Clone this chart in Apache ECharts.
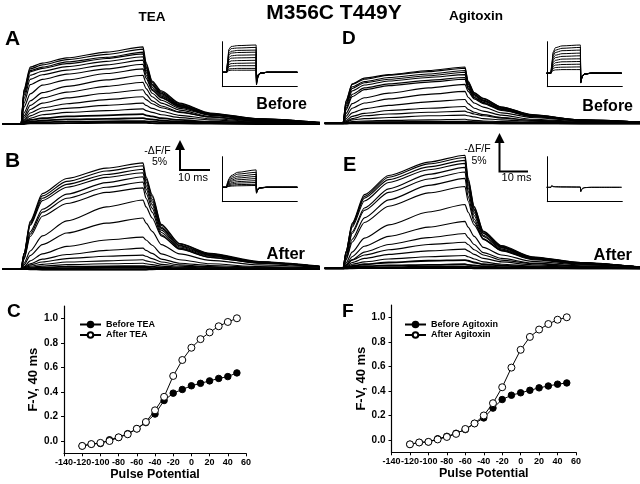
<!DOCTYPE html>
<html><head><meta charset="utf-8">
<script src="https://cdn.jsdelivr.net/npm/echarts@6.0.0/dist/echarts.min.js"></script>
<style>html,body{margin:0;padding:0;background:#fff}#c{width:640px;height:484px}</style>
</head><body><div id="c"></div>
<script>
// ---------------- DATA ----------------
// F-V (40 ms) panels C and F
const voltages = [-120,-110,-100,-90,-80,-70,-60,-50,-40,-30,-20,-10,0,10,20,30,40,50];
const fvBeforeTEA = [-0.04,-0.025,-0.02,0.01,0.03,0.06,0.10,0.15,0.22,0.33,0.39,0.42,0.45,0.47,0.49,0.51,0.525,0.555];
const fvAfterTEA = [-0.04,-0.025,-0.015,0.0,0.03,0.055,0.10,0.155,0.25,0.36,0.53,0.66,0.76,0.83,0.885,0.935,0.97,1.0];
const fvBeforeAgtx = [-0.035,-0.02,-0.015,0.01,0.03,0.055,0.085,0.135,0.18,0.26,0.33,0.365,0.385,0.405,0.425,0.44,0.455,0.465];
const fvAfterAgtx = [-0.035,-0.02,-0.015,0.005,0.025,0.05,0.09,0.135,0.2,0.3,0.43,0.59,0.735,0.84,0.9,0.945,0.98,1.0];
const fvTicksX = [-140,-120,-100,-80,-60,-40,-20,0,20,40,60];
const fvTicksY = [0,0.2,0.4,0.6,0.8,1.0];

// Fluorescence traces (-dF/F, %), sampled at these times (ms); one row per pulse, +50 mV first
const traceTimes = [-6,0,1,3,7,15,28,40,41,43,46,52,62,78,98];
const tracesA = [
[0,0,6.0,9.8,10.5,11.4,12.4,13.3,10.6,7.4,5.7,3.6,1.9,0.9,0.3],
[0,0,5.8,9.5,10.2,11.1,12.0,12.9,10.3,7.2,5.5,3.5,1.8,0.9,0.3],
[0,0,5.6,9.2,9.8,10.7,11.5,12.4,9.9,6.9,5.3,3.3,1.7,0.9,0.2],
[0,0,5.4,9.0,9.6,10.4,11.3,12.1,9.7,6.8,5.2,3.3,1.7,0.8,0.2],
[0,0,5.0,8.4,9.1,9.9,10.8,11.6,9.3,6.6,5.0,3.2,1.7,0.8,0.2],
[0,0,4.4,7.7,8.5,9.3,10.2,11.0,8.9,6.3,4.8,3.1,1.6,0.8,0.2],
[0,0,3.6,6.8,7.7,8.6,9.5,10.3,8.4,6.0,4.6,3.0,1.6,0.7,0.2],
[0,0,2.9,5.2,6.7,7.6,8.7,9.5,7.9,5.8,4.5,2.9,1.6,0.7,0.2],
[0,0,1.9,4.0,5.4,6.5,7.6,8.4,7.1,5.3,4.1,2.7,1.5,0.7,0.2],
[0,0,1.4,3.2,4.5,5.5,6.5,7.2,6.1,4.7,3.6,2.4,1.3,0.6,0.1],
[0,0,1.0,2.5,3.6,4.5,5.3,5.9,5.1,4.0,3.1,2.1,1.2,0.5,0.1],
[0,0,0.7,1.9,2.8,3.5,4.2,4.7,4.2,3.5,2.8,2.0,1.2,0.5,0.1],
[0,0,0.5,1.4,2.2,2.7,3.2,3.6,3.2,2.7,2.2,1.5,0.9,0.4,0.1],
[0,0,0.4,1.0,1.6,2.0,2.3,2.6,2.3,2.0,1.6,1.1,0.7,0.3,0.1],
[0,0,0.3,0.7,1.0,1.3,1.5,1.7,1.5,1.3,1.0,0.7,0.4,0.2,0],
[0,0,0.2,0.4,0.6,0.8,0.9,1.0,0.9,0.8,0.6,0.4,0.3,0.1,0],
[0,0,0.1,0.2,0.3,0.4,0.45,0.5,0.45,0.4,0.3,0.2,0.15,0.05,0],
[0,0,0,0.1,0.1,0.15,0.2,0.2,0.2,0.15,0.1,0.1,0.05,0,0]
];
const tracesB = [
[0,0,2.7,8.2,13.0,15.6,17.4,18.3,15.9,12.8,7.7,4.4,2.7,1.3,0.5],
[0,0,2.7,8.0,12.6,15.1,16.9,17.8,15.5,12.5,7.5,4.3,2.6,1.2,0.4],
[0,0,2.6,7.7,12.2,14.6,16.3,17.2,15.0,12.0,7.2,4.1,2.5,1.2,0.4],
[0,0,2.5,7.5,11.8,14.1,15.8,16.6,14.4,11.6,7.0,4.0,2.4,1.2,0.4],
[0,0,1.9,6.4,10.3,12.9,14.9,15.9,13.8,11.1,6.7,3.8,2.3,1.1,0.4],
[0,0,1.8,6.0,9.8,12.2,14.1,15.0,13.1,10.5,6.3,3.6,2.2,1.1,0.4],
[0,0,1.7,5.6,9.1,11.3,13.2,14.0,12.2,9.8,5.9,3.4,2.0,1.0,0.4],
[0,0,1.0,3.1,5.7,8.3,10.7,11.9,10.7,8.8,5.7,3.5,2.0,1.0,0.4],
[0,0,0.7,2.3,4.2,6.2,7.9,8.8,7.9,6.5,4.2,2.6,1.5,0.7,0.3],
[0,0,0.4,1.4,2.6,3.9,5.0,5.5,5.0,4.1,2.6,1.6,0.9,0.4,0.2],
[0,0,0.3,0.9,1.7,2.5,3.2,3.6,3.2,2.7,1.7,1.0,0.6,0.3,0.1],
[0,0,0.2,0.7,1.2,1.8,2.2,2.4,2.2,1.8,1.2,0.7,0.4,0.2,0.1],
[0,0,0.2,0.5,0.8,1.2,1.4,1.6,1.4,1.2,0.8,0.5,0.3,0.1,0],
[0,0,0.1,0.3,0.5,0.75,0.9,1.0,0.9,0.75,0.5,0.3,0.2,0.1,0],
[0,0,0.05,0.15,0.25,0.4,0.45,0.5,0.45,0.4,0.25,0.15,0.1,0.05,0],
[0,0,0,0.05,0.1,0.15,0.2,0.2,0.2,0.15,0.1,0.05,0,0,0],
[0,0,0,0,-0.05,-0.05,-0.05,-0.05,-0.05,0,0,0,0,0,0],
[0,0,0,-0.05,-0.1,-0.1,-0.1,-0.1,-0.1,-0.05,0,0,0,0,0]
];
const tracesD = [
[0,0,3.9,6.8,7.8,8.4,9.1,9.7,7.3,5.3,4.3,2.8,1.5,0.6,0.2],
[0,0,3.8,6.7,7.6,8.3,8.9,9.5,7.1,5.2,4.2,2.8,1.4,0.6,0.2],
[0,0,3.5,6.3,7.2,7.9,8.5,9.1,6.9,5.0,4.0,2.7,1.4,0.6,0.2],
[0,0,3.3,6.0,7.0,7.6,8.2,8.8,6.7,4.9,3.9,2.6,1.3,0.5,0.2],
[0,0,3.0,5.6,6.6,7.3,7.9,8.4,6.4,4.7,3.8,2.5,1.3,0.5,0.2],
[0,0,2.6,5.0,6.1,6.8,7.4,7.9,6.1,4.5,3.6,2.4,1.2,0.5,0.2],
[0,0,2.3,4.6,5.8,6.5,7.1,7.6,5.9,4.4,3.5,2.3,1.2,0.5,0.2],
[0,0,1.7,3.4,4.4,5.2,6.1,6.7,5.5,4.2,3.4,2.2,1.2,0.5,0.1],
[0,0,1.2,2.6,3.5,4.2,5.0,5.5,4.5,3.5,2.8,1.8,1.0,0.4,0.1],
[0,0,0.8,1.8,2.5,3.1,3.7,4.1,3.4,2.6,2.1,1.4,0.7,0.3,0.1],
[0,0,0.5,1.2,1.7,2.2,2.6,2.9,2.4,1.9,1.5,1.0,0.5,0.2,0.1],
[0,0,0.3,0.8,1.3,1.6,1.9,2.1,1.9,1.6,1.3,0.9,0.5,0.2,0.1],
[0,0,0.2,0.6,0.8,1.0,1.3,1.4,1.3,1.1,0.8,0.6,0.35,0.15,0],
[0,0,0.1,0.3,0.4,0.5,0.6,0.7,0.6,0.5,0.4,0.3,0.2,0.1,0],
[0,0,0.05,0.1,0.2,0.2,0.3,0.3,0.3,0.2,0.2,0.1,0.1,0,0],
[0,0,0,0.1,0.1,0.15,0.2,0.2,0.2,0.15,0.1,0.1,0.05,0,0],
[0,0,0,0.05,0.05,0.1,0.1,0.1,0.1,0.1,0.05,0,0,0,0],
[0,0,0,0,0,0,0,0,0,0,0,0,0,0,0]
];
const tracesE = [
[0,0,2.9,7.8,12.7,16.0,18.3,19.5,15.6,10.7,6.4,3.9,2.0,1.0,0.2],
[0,0,2.9,7.6,12.4,15.7,18.0,19.1,15.3,10.5,6.3,3.8,1.9,1.0,0.2],
[0,0,2.8,7.4,12.1,15.3,17.5,18.6,14.9,10.2,6.1,3.7,1.9,0.9,0.2],
[0,0,2.6,7.1,11.6,14.8,17.0,18.1,14.5,10.0,6.0,3.6,1.8,0.9,0.2],
[0,0,2.1,6.3,10.4,13.7,16.2,17.4,13.9,9.6,5.7,3.5,1.7,0.9,0.2],
[0,0,2.0,6.0,10.0,13.1,15.4,16.6,13.3,9.1,5.5,3.3,1.7,0.8,0.2],
[0,0,1.6,5.0,8.7,11.8,14.3,15.5,12.4,8.5,5.1,3.1,1.6,0.8,0.2],
[0,0,1.4,4.5,7.9,10.7,13.0,14.1,11.6,8.0,5.0,3.0,1.5,0.7,0.2],
[0,0,0.9,2.8,5.2,7.5,9.7,11.0,9.7,7.5,5.0,3.1,1.7,0.8,0.2],
[0,0,0.6,2.0,3.8,5.5,7.1,8.1,7.1,5.5,3.6,2.3,1.2,0.6,0.2],
[0,0,0.5,1.5,2.8,4.1,5.3,6.0,5.3,4.1,2.7,1.7,0.9,0.4,0.1],
[0,0,0.5,1.4,2.3,3.2,4.1,4.5,4.1,3.2,2.3,1.4,0.8,0.4,0.1],
[0,0,0.3,1.0,1.7,2.4,3.0,3.3,3.0,2.4,1.7,1.1,0.6,0.3,0.1],
[0,0,0.2,0.7,1.1,1.6,2.0,2.2,2.0,1.6,1.1,0.7,0.4,0.2,0],
[0,0,0.1,0.4,0.7,1.0,1.3,1.4,1.3,1.0,0.7,0.45,0.25,0.1,0],
[0,0,0.1,0.2,0.35,0.5,0.6,0.7,0.6,0.5,0.35,0.2,0.1,0.05,0],
[0,0,0,0.1,0.15,0.2,0.3,0.3,0.3,0.2,0.15,0.1,0.05,0,0],
[0,0,0,0,0.05,0.05,0.05,0.05,0.05,0,0,0,0,0,0]
];

// Inset ionic currents (arbitrary units), sampled at these times (ms)
const insetTimes = [-6,0,1,3,6,15,40,40.5,41.5,43,46,55,96];
const insetA = [
[0,0,3.2,7.7,8.6,8.9,9.1,-4.2,-2.5,-1.2,-0.4,0,0],
[0,0,2.9,7.1,7.9,8.1,8.3,-4.0,-2.4,-1.1,-0.4,0,0],
[0,0,2.6,6.3,7.0,7.3,7.4,-3.8,-2.3,-1.1,-0.4,0,0],
[0,0,2.3,5.7,6.4,6.6,6.7,-3.6,-2.2,-1.0,-0.3,0,0],
[0,0,2.0,4.9,5.5,5.7,5.8,-3.4,-2.0,-1.0,-0.3,0,0],
[0,0,1.7,4.2,4.7,4.8,4.9,-3.2,-1.9,-0.9,-0.3,0,0],
[0,0,1.4,3.4,3.8,3.9,4.0,-3.0,-1.8,-0.9,-0.3,0,0],
[0,0,1.1,2.6,2.9,3.0,3.1,-2.8,-1.7,-0.8,-0.3,0,0],
[0,0,0.8,1.9,2.1,2.2,2.2,-2.6,-1.6,-0.8,-0.3,0,0],
[0,0,0.5,1.1,1.2,1.3,1.3,-2.4,-1.5,-0.7,-0.2,0,0],
[0,0,0.3,0.6,0.7,0.7,0.7,-2.2,-1.4,-0.7,-0.2,0,0]
];
const insetB = [
[0,0,1.5,2.9,3.9,5.0,5.8,-2.0,-1.2,-0.6,-0.2,0,0],
[0,0,1.3,2.5,3.4,4.4,5.0,-1.9,-1.1,-0.6,-0.2,0,0],
[0,0,1.1,2.2,2.9,3.7,4.3,-1.8,-1.1,-0.5,-0.2,0,0],
[0,0,0.9,1.8,2.4,3.1,3.6,-1.7,-1.0,-0.5,-0.2,0,0],
[0,0,0.7,1.5,2.0,2.5,2.9,-1.6,-1.0,-0.5,-0.2,0,0],
[0,0,0.6,1.1,1.5,1.9,2.2,-1.5,-0.9,-0.4,-0.1,0,0],
[0,0,0.4,0.8,1.1,1.4,1.6,-1.4,-0.8,-0.4,-0.1,0,0],
[0,0,0.3,0.5,0.7,0.9,1.0,-1.3,-0.8,-0.4,-0.1,0,0],
[0,0,0.2,0.3,0.4,0.5,0.6,-1.2,-0.7,-0.3,-0.1,0,0]
];
const insetD = [
[0,0,2.8,7.1,8.5,9.1,9.4,-3.3,-2.0,-1.0,-0.3,0,0],
[0,0,2.6,6.5,7.7,8.3,8.6,-3.2,-1.9,-1.0,-0.3,0,0],
[0,0,2.3,5.8,6.9,7.5,7.7,-3.1,-1.9,-0.9,-0.3,0,0],
[0,0,2.0,5.0,6.0,6.5,6.7,-3.0,-1.8,-0.9,-0.3,0,0],
[0,0,1.7,4.4,5.2,5.6,5.8,-2.9,-1.7,-0.9,-0.3,0,0],
[0,0,1.4,3.6,4.3,4.7,4.8,-2.8,-1.7,-0.8,-0.3,0,0],
[0,0,1.2,2.9,3.5,3.8,3.9,-2.7,-1.6,-0.8,-0.2,0,0],
[0,0,0.9,2.3,2.7,2.9,3.0,-2.6,-1.6,-0.8,-0.2,0,0],
[0,0,0.6,1.6,1.9,2.0,2.1,-2.5,-1.5,-0.7,-0.2,0,0],
[0,0,0.4,0.9,1.1,1.2,1.2,-2.4,-1.4,-0.7,-0.2,0,0]
];
const insetE = [
[0,0,0.6,0.3,0.2,0.15,0.1,-1.5,-0.9,-0.4,-0.1,0,0],
[0,0,0.4,0.2,0.15,0.1,0.05,-1.3,-0.8,-0.3,-0.1,0,0]
];

// ---------------- CHART ----------------
const FONT = "'Liberation Sans', Arial, Helvetica, sans-serif";
const grids = [], xAxes = [], yAxes = [], series = [];

function addGrid(rect, xa, ya) {
  const gi = grids.length;
  grids.push(Object.assign({outerBoundsMode: 'none', containLabel: false}, rect));
  xAxes.push(Object.assign({gridIndex: gi, type: 'value'}, xa));
  yAxes.push(Object.assign({gridIndex: gi, type: 'value'}, ya));
  return gi;
}
const hiddenAxis = (min, max) => ({min, max, show: false, axisLine:{show:false}, axisTick:{show:false}, axisLabel:{show:false}, splitLine:{show:false}});

function addTraces(gi, times, rows, widthFn) {
  rows.forEach((row, k) => {
    series.push({
      type: 'line', xAxisIndex: gi, yAxisIndex: gi, silent: true,
      data: times.map((t, i) => [t, row[i]]),
      symbol: 'none', showSymbol: false, smooth: 0.25, smoothMonotone: 'x',
      lineStyle: {color: '#000', width: widthFn ? widthFn(k, rows.length) : 1},
      animation: false, z: 2
    });
  });
}
const thickLow = (k, n) => (k >= n - 4 ? 1.8 : 1.15);

// Trace panels
const gA = addGrid({left: 2.7, top: 42.8, width: 317.2, height: 87}, hiddenAxis(-6, 98), hiddenAxis(-1, 14));
const gB = addGrid({left: 2.7, top: 153, width: 317.2, height: 121.8}, hiddenAxis(-6, 98), hiddenAxis(-1, 20));
const gD = addGrid({left: 324.7, top: 42.1, width: 317.2, height: 87}, hiddenAxis(-6, 98), hiddenAxis(-1, 14));
const gE = addGrid({left: 324.7, top: 146.5, width: 317.2, height: 127.6}, hiddenAxis(-6, 98), hiddenAxis(-1, 21));
addTraces(gA, traceTimes, tracesA, thickLow);
addTraces(gB, traceTimes, tracesB, thickLow);
addTraces(gD, traceTimes, tracesD, thickLow);
addTraces(gE, traceTimes, tracesE, thickLow);

// Insets
function insetAxes(xmin, xmax, ymin, ymax) {
  return [
    {min: xmin, max: xmax, axisLine: {show: true, onZero: false, lineStyle: {color: '#000', width: 1}}, axisTick: {show: false}, axisLabel: {show: false}, splitLine: {show: false}},
    {min: ymin, max: ymax, axisLine: {show: true, onZero: false, lineStyle: {color: '#000', width: 1}}, axisTick: {show: false}, axisLabel: {show: false}, splitLine: {show: false}}
  ];
}
let ax;
ax = insetAxes(-6, 96, -4.8, 10.2);
const giA = addGrid({left: 222.3, top: 41.7, width: 75, height: 45}, ax[0], ax[1]);
ax = insetAxes(-6, 96, -4.8, 10.2);
const giB = addGrid({left: 222.3, top: 156.7, width: 75, height: 45}, ax[0], ax[1]);
ax = insetAxes(-5, 97, -4.5, 10.5);
const giD = addGrid({left: 547.3, top: 41.7, width: 75, height: 45}, ax[0], ax[1]);
ax = insetAxes(-5, 97, -4.8, 10.2);
const giE = addGrid({left: 547.3, top: 156.7, width: 75, height: 45}, ax[0], ax[1]);
addTraces(giA, insetTimes, insetA);
addTraces(giB, insetTimes, insetB);
addTraces(giD, insetTimes, insetD);
addTraces(giE, insetTimes, insetE);

// F-V panels
function fvAxes() {
  return [
    {min: -140, max: 60, interval: 20,
     axisLine: {show: true, onZero: false, lineStyle: {color: '#000', width: 1.2}},
     axisTick: {show: true, length: 3, lineStyle: {color: '#000'}},
     axisLabel: {show: true, margin: 5, fontSize: 9, fontWeight: 'bold', color: '#000', fontFamily: FONT,
                 showMinLabel: true, showMaxLabel: true, hideOverlap: false, interval: 0},
     splitLine: {show: false},
     name: 'Pulse Potential', nameLocation: 'middle', nameGap: 15,
     nameTextStyle: {fontSize: 12.5, fontWeight: 'bold', color: '#000', fontFamily: FONT}},
    {min: -0.1, max: 1.1,
     axisLine: {show: true, onZero: false, lineStyle: {color: '#000', width: 1.2}},
     axisTick: {show: true, length: 3, customValues: fvTicksY, lineStyle: {color: '#000'}},
     axisLabel: {show: true, margin: 6, fontSize: 10, fontWeight: 'bold', color: '#000', fontFamily: FONT,
                 customValues: fvTicksY, formatter: v => Number(v).toFixed(1)},
     splitLine: {show: false},
     name: 'F-V, 40 ms', nameLocation: 'middle', nameGap: 18, nameRotate: 90,
     nameTextStyle: {fontSize: 13, fontWeight: 'bold', color: '#000', fontFamily: FONT}}
  ];
}
ax = fvAxes();
const gC = addGrid({left: 64, top: 306, width: 182, height: 147.3}, ax[0], ax[1]);
ax = fvAxes();
const gF = addGrid({left: 391.5, top: 305, width: 184.5, height: 147.3}, ax[0], ax[1]);

function fvSeries(gi, name, vals, open) {
  series.push({
    type: 'line', name, xAxisIndex: gi, yAxisIndex: gi,
    data: voltages.map((v, i) => [v, vals[i]]),
    symbol: 'circle', symbolSize: open ? 7 : 6.5, showSymbol: true,
    lineStyle: {color: '#000', width: 1},
    itemStyle: open ? {color: '#fff', borderColor: '#000', borderWidth: 1} : {color: '#000', borderColor: '#000', borderWidth: 1},
    animation: false, z: open ? 4 : 3
  });
}
fvSeries(gC, 'Before TEA', fvBeforeTEA, false);
fvSeries(gC, 'After TEA', fvAfterTEA, true);
fvSeries(gF, 'Before Agitoxin', fvBeforeAgtx, false);
fvSeries(gF, 'After Agitoxin', fvAfterAgtx, true);

const legendText = {fontSize: 9, fontWeight: 'bold', color: '#000', fontFamily: FONT};
const legends = [
  {data: ['Before TEA', 'After TEA'], left: 79, top: 320, orient: 'vertical', itemGap: 1.5, itemWidth: 21, itemHeight: 7, textStyle: legendText, selectedMode: false, padding: 0},
  {data: ['Before Agitoxin', 'After Agitoxin'], left: 404, top: 320, orient: 'vertical', itemGap: 1.5, itemWidth: 21, itemHeight: 7, textStyle: legendText, selectedMode: false, padding: 0}
];

// Texts and scale bars
function txt(text, x, y, size, weight, align) {
  return {type: 'text', silent: true, z: 10, style: {text, x, y, fill: '#000',
    font: (weight || 'normal') + ' ' + size + 'px ' + FONT,
    align: align || 'center', textAlign: align || 'center', verticalAlign: 'middle', textVerticalAlign: 'middle'}};
}
const elements = [
  txt('M356C T449Y', 334, 13, 21, 'bold'),
  txt('TEA', 152, 17, 13.5, 'bold'),
  txt('Agitoxin', 476, 16, 13.5, 'bold'),
  txt('A', 5, 39.5, 21, 'bold', 'left'),
  txt('B', 5, 161, 21, 'bold', 'left'),
  txt('C', 7, 312, 19, 'bold', 'left'),
  txt('D', 342, 38.5, 19, 'bold', 'left'),
  txt('E', 343, 165, 20, 'bold', 'left'),
  txt('F', 342, 312, 19, 'bold', 'left'),
  txt('Before', 307, 104.5, 16, 'bold', 'right'),
  txt('Before', 633, 106.5, 16, 'bold', 'right'),
  txt('After', 305, 254.5, 16.5, 'bold', 'right'),
  txt('After', 632, 255.5, 16.5, 'bold', 'right'),
  txt('-\u0394F/F', 157.5, 151, 10.5),
  txt('5%', 159.5, 162.5, 10.5),
  txt('10 ms', 193, 177.5, 11),
  txt('-\u0394F/F', 477.5, 149, 10.5),
  txt('5%', 479, 161, 10.5),
  txt('10 ms', 516.5, 177.5, 11),
  {type: 'polyline', silent: true, z: 10, shape: {points: [[180, 149], [180, 170], [210, 170]]}, style: {stroke: '#000', lineWidth: 2, fill: null}},
  {type: 'polygon', silent: true, z: 10, shape: {points: [[175, 150], [180, 140], [185, 150]]}, style: {fill: '#000'}},
  {type: 'polyline', silent: true, z: 10, shape: {points: [[499.5, 142], [499.5, 171.5], [528, 171.5]]}, style: {stroke: '#000', lineWidth: 2, fill: null}},
  {type: 'polygon', silent: true, z: 10, shape: {points: [[494.5, 143], [499.5, 133], [504.5, 143]]}, style: {fill: '#000'}}
];

const chart = echarts.init(document.getElementById('c'), null, {renderer: 'canvas', width: 640, height: 484});
chart.setOption({
  backgroundColor: '#fff',
  animation: false,
  textStyle: {fontFamily: FONT},
  grid: grids, xAxis: xAxes, yAxis: yAxes,
  legend: legends,
  series,
  graphic: {elements}
});
</script>
</body></html>
